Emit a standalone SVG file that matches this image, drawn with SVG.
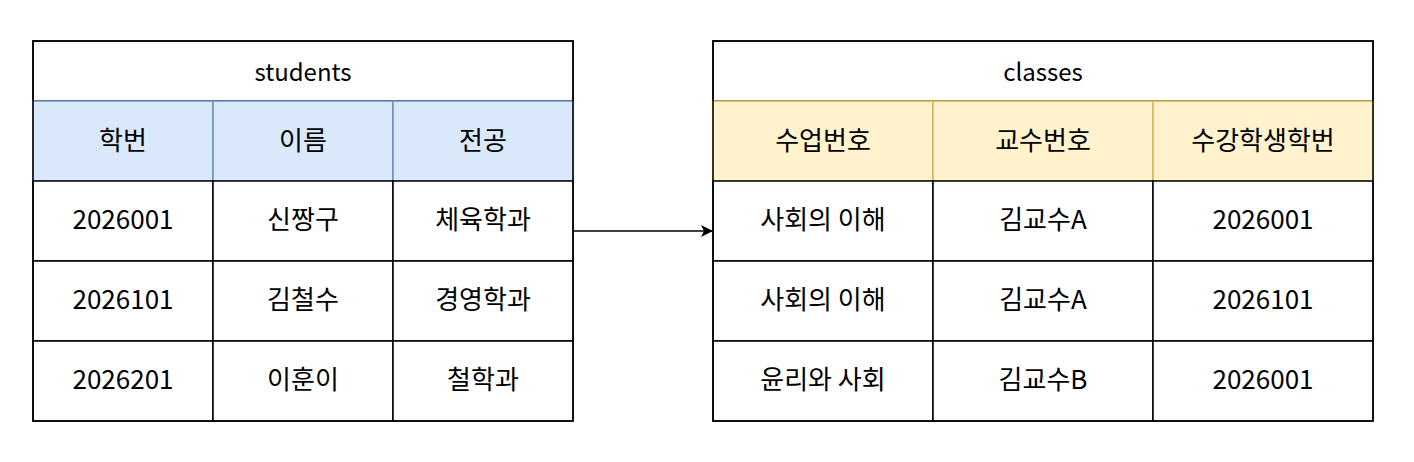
<svg xmlns="http://www.w3.org/2000/svg" width="1414" height="462" viewBox="0 0 1414 462">
<style>
text{font-family:"Noto Sans CJK KR","Noto Sans",sans-serif;font-size:26px;text-anchor:middle;dominant-baseline:central;fill:#000}
.t{font-size:24px}
.c{fill:#fff;stroke:#000;stroke-width:1.5}
.b{fill:#dae8fc;stroke:#6c8ebf;stroke-width:1.5}
.y{fill:#fff2cc;stroke:#d6b656;stroke-width:1.5}
.o{fill:none;stroke:#000;stroke-width:1.5}
</style>
<defs><marker id="a" markerWidth="12" markerHeight="12" refX="11" refY="6" orient="auto" markerUnits="userSpaceOnUse"><path d="M0,0L12,6L0,12L3,6Z" fill="#000"/></marker></defs>
<g id="students">
<rect class="c" x="33" y="41" width="540" height="60"/><text class="t" x="303" y="70">students</text>
<rect class="b" x="33" y="101" width="180" height="80"/><rect class="b" x="213" y="101" width="180" height="80"/><rect class="b" x="393" y="101" width="180" height="80"/>
<text x="123" y="138">학번</text><text x="303" y="138">이름</text><text x="483" y="138">전공</text>
<rect class="c" x="33" y="181" width="180" height="80"/><rect class="c" x="213" y="181" width="180" height="80"/><rect class="c" x="393" y="181" width="180" height="80"/>
<rect class="c" x="33" y="261" width="180" height="80"/><rect class="c" x="213" y="261" width="180" height="80"/><rect class="c" x="393" y="261" width="180" height="80"/>
<rect class="c" x="33" y="341" width="180" height="80"/><rect class="c" x="213" y="341" width="180" height="80"/><rect class="c" x="393" y="341" width="180" height="80"/>
<rect class="o" x="33" y="41" width="540" height="380"/>
<text x="123" y="217">2026001</text><text x="303" y="217">신짱구</text><text x="483" y="217">체육학과</text>
<text x="123" y="297">2026101</text><text x="303" y="297">김철수</text><text x="483" y="297">경영학과</text>
<text x="123" y="377">2026201</text><text x="303" y="377">이훈이</text><text x="483" y="377">철학과</text>
</g>
<g id="classes">
<rect class="c" x="713" y="41" width="660" height="60"/><text class="t" x="1043" y="70">classes</text>
<rect class="y" x="713" y="101" width="220" height="80"/><rect class="y" x="933" y="101" width="220" height="80"/><rect class="y" x="1153" y="101" width="220" height="80"/>
<text x="823" y="138">수업번호</text><text x="1043" y="138">교수번호</text><text x="1263" y="138">수강학생학번</text>
<rect class="c" x="713" y="181" width="220" height="80"/><rect class="c" x="933" y="181" width="220" height="80"/><rect class="c" x="1153" y="181" width="220" height="80"/>
<rect class="c" x="713" y="261" width="220" height="80"/><rect class="c" x="933" y="261" width="220" height="80"/><rect class="c" x="1153" y="261" width="220" height="80"/>
<rect class="c" x="713" y="341" width="220" height="80"/><rect class="c" x="933" y="341" width="220" height="80"/><rect class="c" x="1153" y="341" width="220" height="80"/>
<rect class="o" x="713" y="41" width="660" height="380"/>
<text x="823" y="217">사회의 이해</text><text x="1043" y="217">김교수A</text><text x="1263" y="217">2026001</text>
<text x="823" y="297">사회의 이해</text><text x="1043" y="297">김교수A</text><text x="1263" y="297">2026101</text>
<text x="823" y="377">윤리와 사회</text><text x="1043" y="377">김교수B</text><text x="1263" y="377">2026001</text>
</g>
<g id="connectors"><path d="M573,231H712" stroke="#000" stroke-width="1.5" fill="none" marker-end="url(#a)"/></g>
</svg>
